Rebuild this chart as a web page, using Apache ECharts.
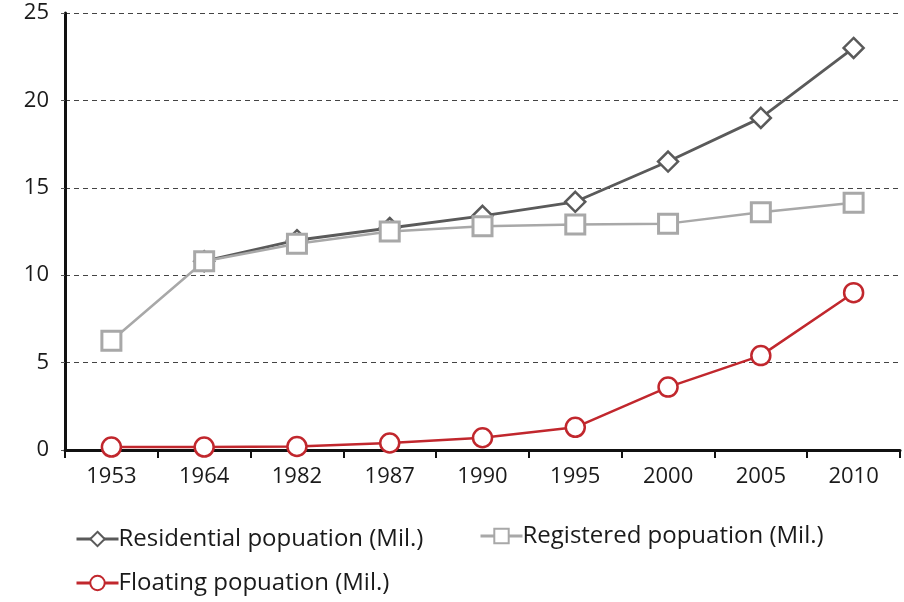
<!DOCTYPE html>
<html><head><meta charset="utf-8">
<script src="https://cdn.jsdelivr.net/npm/echarts@6/dist/echarts.min.js"></script>
<style>html,body{margin:0;padding:0;background:#fff}#c{width:904px;height:602px}</style>
</head><body><div id="c"></div>
<script>
const years = ['1953','1964','1982','1987','1990','1995','2000','2005','2010'];
const residential = [null, 10.8, 12.0, 12.7, 13.4, 14.2, 16.5, 19.0, 23.0];
const registered = [6.25, 10.8, 11.8, 12.5, 12.8, 12.9, 12.95, 13.6, 14.15];
const floating = [0.17, 0.17, 0.2, 0.4, 0.7, 1.3, 3.6, 5.4, 9.0];
const names = ['Residential popuation (Mil.)', 'Registered popuation (Mil.)', 'Floating popuation (Mil.)'];

const font = 'Open Sans';
const chart = echarts.init(document.getElementById('c'));
const legendBase = {
  itemWidth: 42, itemHeight: 18, itemGap: 0,
  lineStyle: {width: 3},
  textStyle: {fontFamily: font, fontSize: 24, color: '#1a1a1a', padding: [0,0,0,-5]}
};
chart.setOption({
  animation: false,
  grid: {left: 65, right: 4, top: 13, bottom: 152},
  legend: [
    Object.assign({}, legendBase, {data: [names[0]], left: 70, top: 522}),
    Object.assign({}, legendBase, {data: [names[1]], left: 474, top: 519}),
    Object.assign({}, legendBase, {data: [names[2]], left: 70, top: 566})
  ],
  xAxis: {
    type: 'category', data: years, boundaryGap: true,
    axisLine: {lineStyle: {color: '#111', width: 3}},
    axisTick: {show: true, length: 8, lineStyle: {color: '#111', width: 2}},
    axisLabel: {fontFamily: font, fontSize: 22, color: '#1a1a1a', margin: 16}
  },
  yAxis: {
    type: 'value', min: 0, max: 25, interval: 5,
    axisLine: {show: true, lineStyle: {color: '#111', width: 3}},
    axisTick: {show: true, length: 7, lineStyle: {color: '#555', width: 1, type: [4,3]}},
    axisLabel: {fontFamily: font, fontSize: 22, color: '#1a1a1a', margin: 16},
    splitLine: {show: true, lineStyle: {color: '#444', width: 1, type: [5,4]}}
  },
  series: [
    {name: names[0], type: 'line', data: residential, z: 2,
     symbol: 'diamond', symbolSize: 20,
     lineStyle: {color: '#5a5a5a', width: 2.8},
     itemStyle: {color: '#fff', borderColor: '#5a5a5a', borderWidth: 2.5}},
    {name: names[1], type: 'line', data: registered, z: 3,
     symbol: 'rect', symbolSize: 19,
     lineStyle: {color: '#a8a8a8', width: 2.5},
     itemStyle: {color: '#fff', borderColor: '#a8a8a8', borderWidth: 3}},
    {name: names[2], type: 'line', data: floating, z: 4,
     symbol: 'circle', symbolSize: 19,
     lineStyle: {color: '#c1272d', width: 2.5},
     itemStyle: {color: '#fff', borderColor: '#c1272d', borderWidth: 2.5}}
  ]
});
</script></body></html>
